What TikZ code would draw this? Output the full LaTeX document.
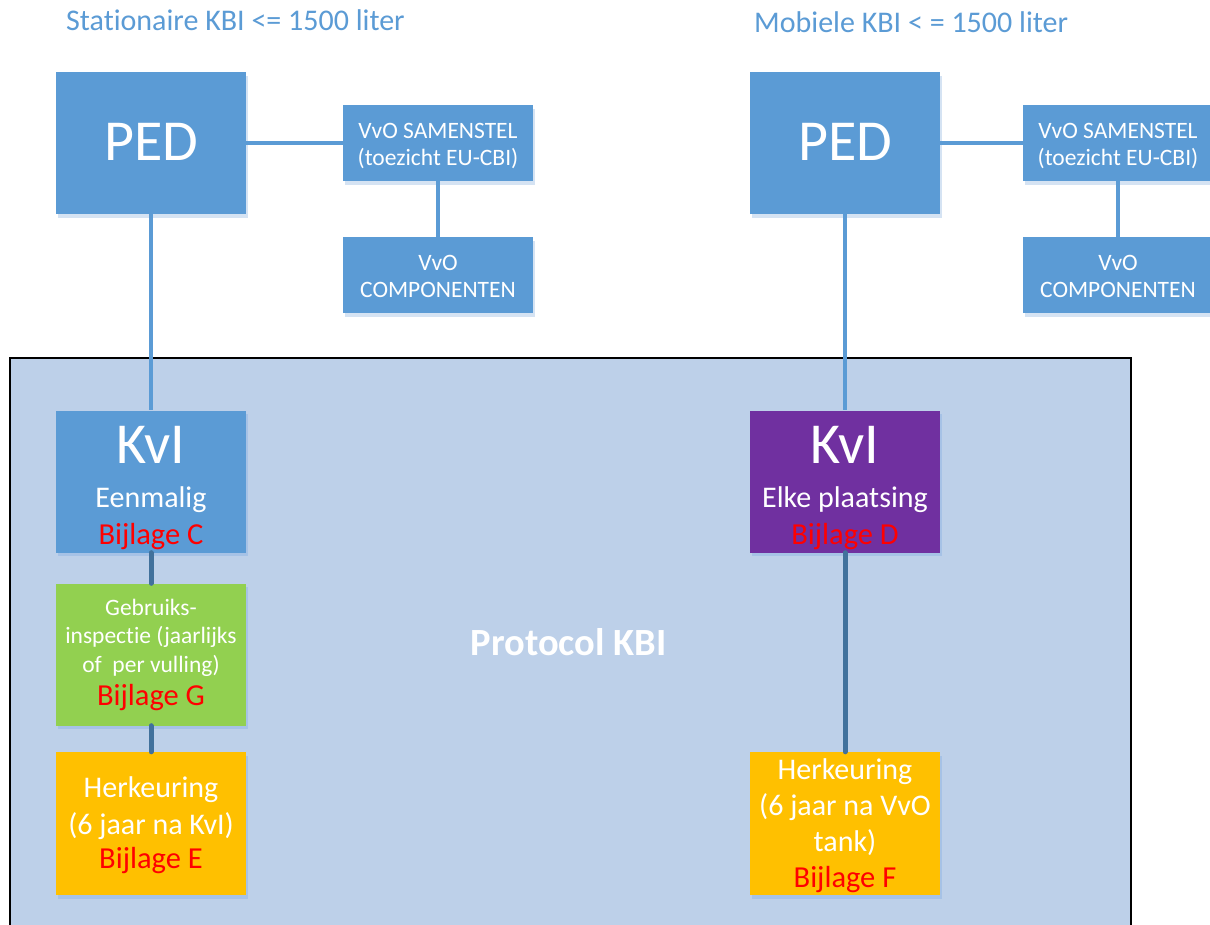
\documentclass[tikz,border=0pt]{standalone}
\usepackage{fontspec}
\setmainfont{Carlito}[Ligatures=NoCommon]
\usetikzlibrary{shadows}
\definecolor{accent}{HTML}{5B9BD5}
\definecolor{protfill}{HTML}{BDD0E9}
\definecolor{darkline}{HTML}{41719C}
\definecolor{kvipurple}{HTML}{7030A0}
\definecolor{inspgreen}{HTML}{92D050}
\definecolor{herkorange}{HTML}{FFC000}
\definecolor{shadowwhite}{HTML}{D5E3F3}
\definecolor{shadowblue}{HTML}{A6C2E6}
\definecolor{bijred}{HTML}{FF0000}
\tikzset{
  box/.style={rectangle, inner sep=0pt, minimum width=190pt, minimum height=142pt, fill=accent},
  smallbox/.style={box, minimum height=76pt},
  shw/.style={drop shadow={shadow xshift=1.5pt, shadow yshift=-3.5pt, fill=shadowwhite, opacity=1}},
  shb/.style={drop shadow={shadow xshift=1.5pt, shadow yshift=-3.5pt, fill=shadowblue, opacity=1}},
  txt/.style={anchor=base, inner sep=0pt, text=white},
  small/.style={txt, font=\fontsize{23.5}{26}\selectfont},
  mid/.style={txt, font=\fontsize{30}{33}\selectfont},
  bij/.style={txt, text=bijred, font=\fontsize{30.5}{33}\selectfont},
  big/.style={txt, font=\fontsize{58}{60}\selectfont},
  toplink/.style={draw=accent, line width=4pt},
  lowlink/.style={draw=darkline, line width=5pt, line cap=round},
  ttl/.style={anchor=base west, inner sep=0pt, text=accent, font=\fontsize{30}{33}\selectfont},
}
\begin{document}
\begin{tikzpicture}[x=1pt,y=-1pt]
\useasboundingbox (0,0) rectangle (1210,924);
\clip (0,0) rectangle (1210,924);
\fill[white] (0,0) rectangle (1210,924);

% titles
\node[ttl] (t1) at (66,30) {Stationaire KBI <= 1500 liter};
\node[ttl] (t2) at (754,32) {Mobiele KBI < = 1500 liter};

% protocol area
\node[draw=black, line width=2pt, fill=protfill, rectangle, inner sep=0pt, anchor=north west,
      minimum width=1121pt, minimum height=600pt] (prot) at (9,357) {};
\node[txt, font=\bfseries\fontsize{38.5}{40}\selectfont] (protlbl) at (568.5,655) {Protocol KBI};

% boxes
\node[box, shw] (pedL) at (151,143) {};
\node[smallbox, shw] (samL) at (438,143) {};
\node[smallbox, shw] (compL) at (438,275) {};
\node[box, shw] (pedR) at (845,143) {};
\node[smallbox, shw] (samR) at (1118,143) {};
\node[smallbox, shw] (compR) at (1118,275) {};

\node[box, shb] (kviL) at (151,481.5) {};
\node[box, shb, fill=inspgreen] (gebL) at (151,654.5) {};
\node[box, shb, fill=herkorange, minimum height=143pt] (herL) at (151,823.5) {};
\node[box, shb, fill=kvipurple] (kviR) at (845,481.5) {};
\node[box, shb, fill=herkorange, minimum height=143pt] (herR) at (845,823.5) {};

% connectors
\draw[toplink] (pedL.east) -- (samL.west);
\draw[toplink] (samL.south) -- (compL.north);
\draw[toplink] (pedL.south) -- (kviL.north);
\draw[toplink] (pedR.east) -- (samR.west);
\draw[toplink] (samR.south) -- (compR.north);
\draw[toplink] (pedR.south) -- (kviR.north);
\draw[lowlink] (kviL.south) -- (gebL.north);
\draw[lowlink] (gebL.south) -- (herL.north);
\draw[lowlink] (kviR.south) -- (herR.north);

% texts
\node[big] (pedLt) at (151,160) {PED};
\node[big] (pedRt) at (845,160) {PED};
\node[small] (samL1) at (438,138) {VvO SAMENSTEL};
\node[small] (samL2) at (438,165) {(toezicht EU-CBI)};
\node[small] (compL1) at (438,270) {VvO};
\node[small] (compL2) at (438,297) {COMPONENTEN};
\node[small] (samR1) at (1118,138) {VvO SAMENSTEL};
\node[small] (samR2) at (1118,165) {(toezicht EU-CBI)};
\node[small] (compR1) at (1118,270) {VvO};
\node[small] (compR2) at (1118,297) {COMPONENTEN};

\node[big] (kviL1) at (151,463) {KvI};
\node[mid] (kviL2) at (151,507) {Eenmalig};
\node[bij] (kviL3) at (151,544) {Bijlage C};

\node[small] (gebL1) at (151,615) {Gebruiks-};
\node[small] (gebL2) at (151,643) {inspectie (jaarlijks};
\node[small] (gebL3) at (151,672) {of\ \ per vulling)};
\node[bij] (gebL4) at (151,705) {Bijlage G};

\node[mid] (herL1) at (151,797) {Herkeuring};
\node[mid] (herL2) at (151,834) {(6 jaar na KvI)};
\node[bij] (herL3) at (151,868) {Bijlage E};

\node[big] (kviR1) at (845,463) {KvI};
\node[mid] (kviR2) at (845,507) {Elke plaatsing};
\node[bij] (kviR3) at (845,544) {Bijlage D};

\node[mid] (herR1) at (845,779) {Herkeuring};
\node[mid] (herR2) at (845,815) {(6 jaar na VvO};
\node[mid] (herR3) at (845,851) {tank)};
\node[bij] (herR4) at (845,887) {Bijlage F};
\end{tikzpicture}
\end{document}
